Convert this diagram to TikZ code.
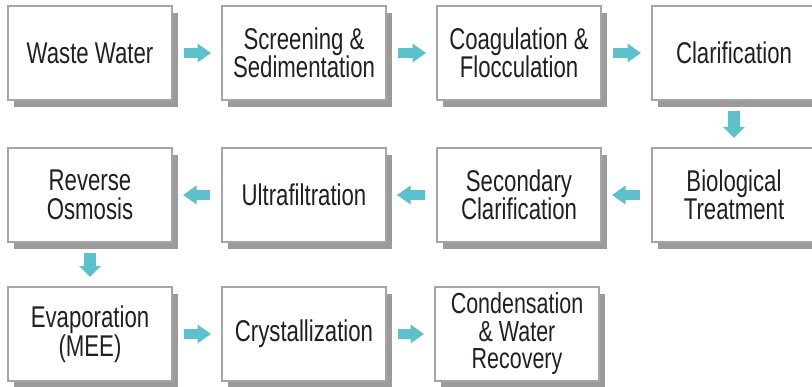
\documentclass[tikz,border=0pt]{standalone}
\usepackage{fontspec}
\setmainfont{Liberation Sans}[FakeStretch=0.74]
\usetikzlibrary{arrows.meta,shadows}
\definecolor{bordergray}{RGB}{165,165,165}
\definecolor{shadowgray}{RGB}{155,155,155}
\definecolor{flowteal}{RGB}{93,192,205}
\definecolor{txt}{RGB}{35,31,32}
\tikzset{
  stepbox/.style={draw=bordergray, line width=2pt, fill=white,
    minimum width=164pt, minimum height=94pt, inner sep=0pt,
    align=center, text=txt, font=\fontsize{30}{28.5}\selectfont,
    general shadow={fill=shadowgray, shadow xshift=6pt, shadow yshift=-7pt}},
  harrow/.style={draw=flowteal, line width=10pt,
    -{Triangle[length=13.5pt,width=18pt]}, shorten <=11pt, shorten >=10pt},
  varrow/.style={draw=flowteal, line width=12pt,
    -{Triangle[length=11pt,width=21pt]}, shorten <=10pt, shorten >=9pt}
}
\begin{document}
\begin{tikzpicture}[x=1pt,y=-1pt]
\clip (0,0) rectangle (812,387);
\fill[white] (0,0) rectangle (812,387);
% row 1
\node[stepbox] (ww)  at (90,53)  {Waste Water};
\node[stepbox] (scr) at (304,53) {Screening \&\\Sedimentation};
\node[stepbox] (coa) at (519,53) {Coagulation \&\\Flocculation};
\node[stepbox] (cla) at (734,53) {Clarification};
% row 2
\node[stepbox] (bio) at (734,195) {Biological\\Treatment};
\node[stepbox] (sec) at (519,195) {Secondary\\Clarification};
\node[stepbox] (uf)  at (304,195) {Ultrafiltration};
\node[stepbox] (ro)  at (90,195)  {Reverse\\Osmosis};
% row 3
\node[stepbox] (eva) at (90,334)  {Evaporation\\(MEE)};
\node[stepbox] (cry) at (304,334) {Crystallization};
\node[stepbox, font=\fontsize{29}{27.5}\selectfont] (con) at (517,334) {Condensation\\\& Water\\Recovery};
% connectors
\draw[harrow] (ww) -- (scr);
\draw[harrow] (scr) -- (coa);
\draw[harrow] (coa) -- (cla);
\draw[varrow] (cla) -- (bio);
\draw[harrow] (bio) -- (sec);
\draw[harrow] (sec) -- (uf);
\draw[harrow] (uf) -- (ro);
\draw[varrow] (ro) -- (eva);
\draw[harrow] (eva) -- (cry);
\draw[harrow] (cry) -- (con);
\end{tikzpicture}
\end{document}
